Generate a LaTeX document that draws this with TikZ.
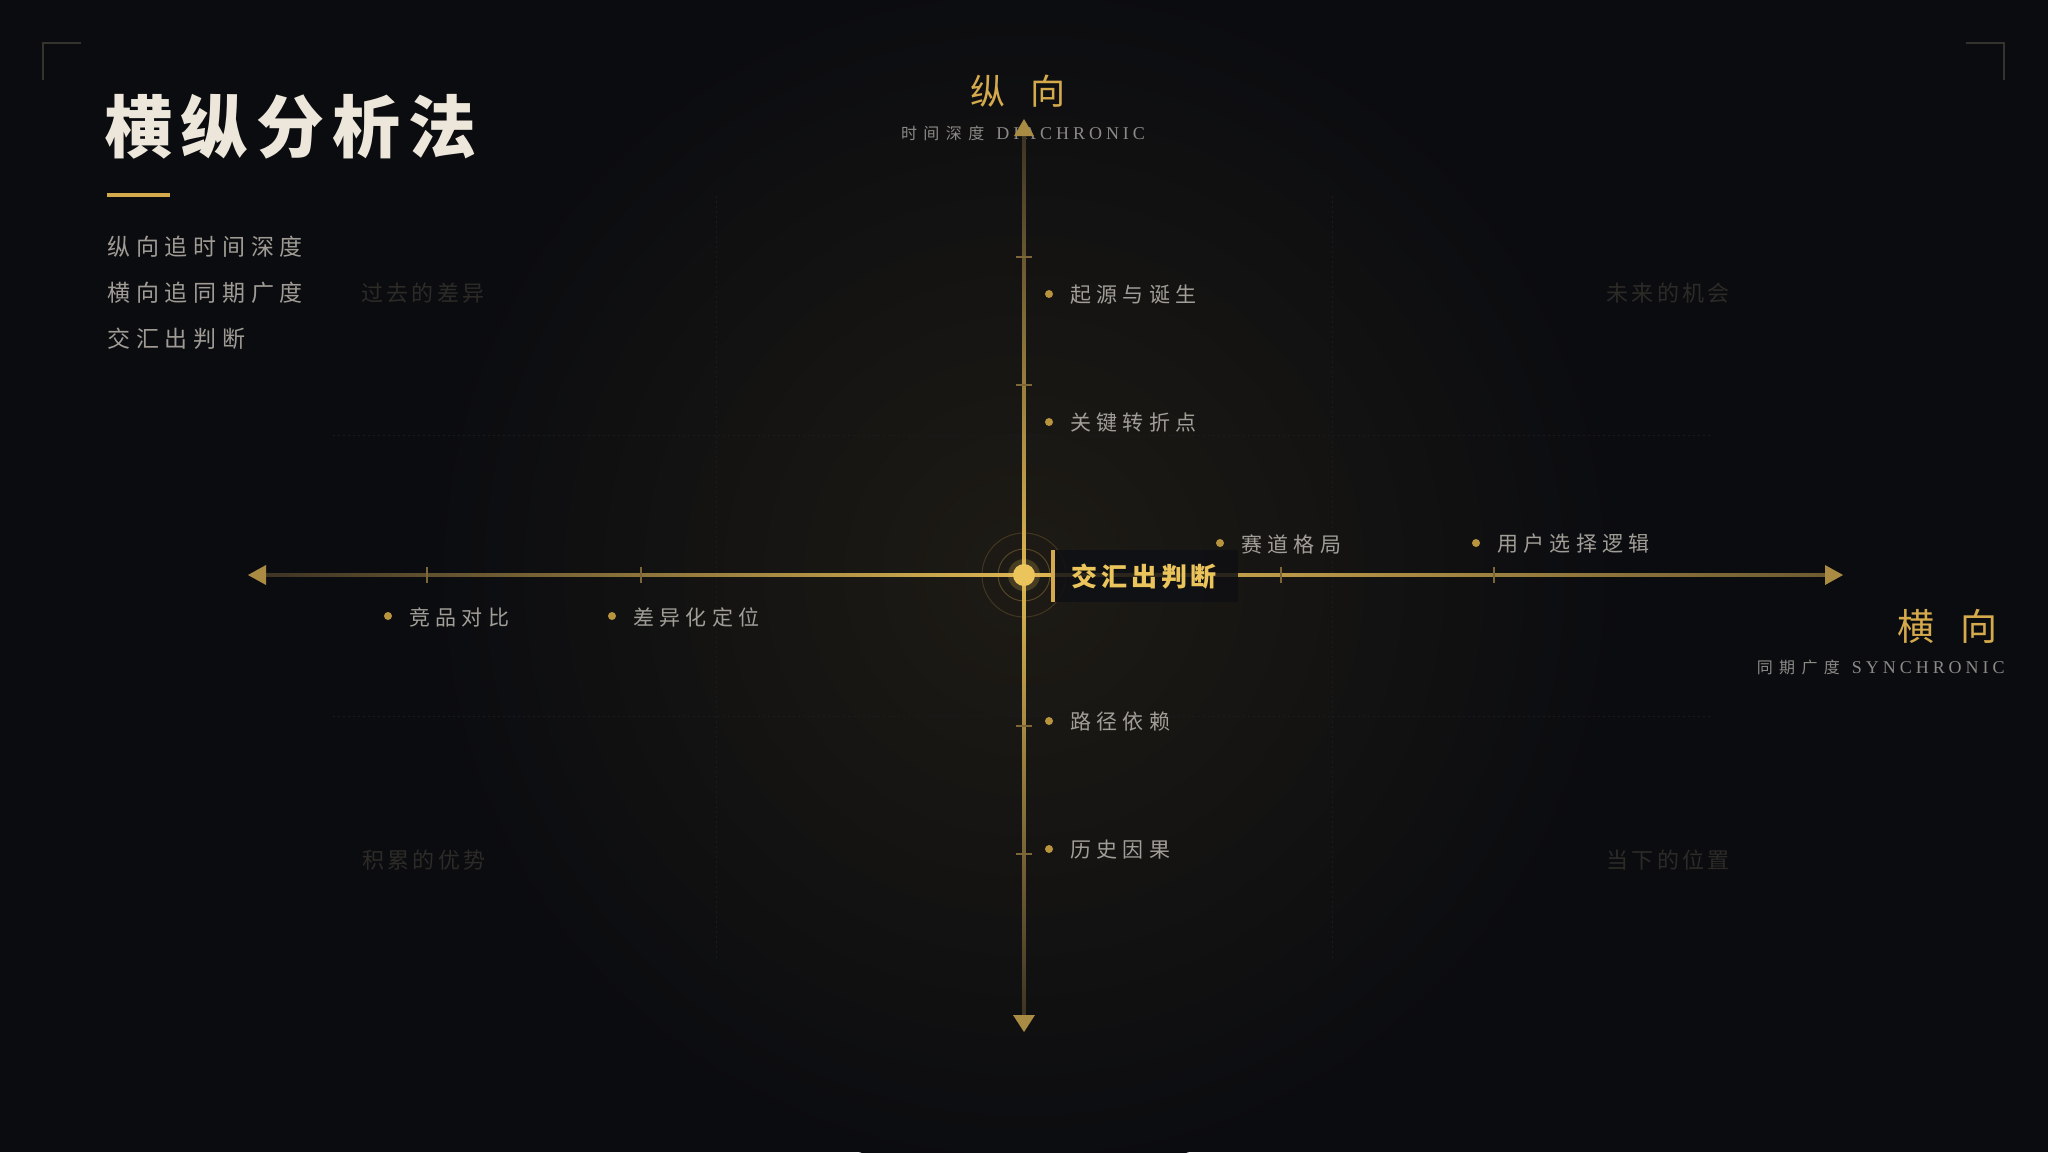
\documentclass[tikz,border=0pt]{standalone}
\usepackage{fontspec}
\setmainfont{Liberation Serif}
\newfontfamily\cjkA[LetterSpace=12]{Noto Sans CJK SC}
\newfontfamily\cjkB[LetterSpace=25]{Noto Sans CJK SC}
\newfontfamily\cjkC[LetterSpace=15]{Noto Sans CJK SC}
\newfontfamily\cjkD[LetterSpace=40]{Noto Sans CJK SC}
\newfontfamily\cjkP{Noto Sans CJK SC}
\newfontfamily\latS[LetterSpace=22]{Liberation Serif}
\definecolor{bg}{HTML}{0B0C10}
\definecolor{gold}{HTML}{D4AA4C}
\definecolor{goldhi}{HTML}{EBC55B}
\definecolor{golddim}{HTML}{3E3424}
\definecolor{goldaxis}{HTML}{DDB552}
\definecolor{arrowc}{HTML}{A98B43}
\definecolor{tickc}{HTML}{7D6738}
\definecolor{dotc}{HTML}{B8943F}
\definecolor{itemc}{HTML}{A19E97}
\definecolor{listc}{HTML}{A09C95}
\definecolor{subc}{HTML}{8C8A86}
\definecolor{quadc}{HTML}{2D2B27}
\definecolor{cornerc}{HTML}{35332E}
\definecolor{titlec}{HTML}{EDE7DB}
\definecolor{gridc}{HTML}{1A1B20}
\definecolor{glowc}{HTML}{1E1B15}
\definecolor{boxc}{HTML}{0F1014}
\begin{document}
\begin{tikzpicture}[x=0.5pt,y=-0.5pt,
  item/.style={anchor=west, inner sep=0pt, text=itemc, font=\cjkB\fontsize{10.5pt}{12pt}\selectfont},
  itemdot/.style={circle, fill=dotc, minimum size=4pt, inner sep=0pt},
  quad/.style={anchor=west, inner sep=0pt, text=quadc, font=\cjkC\fontsize{11pt}{13pt}\selectfont},
  listline/.style={anchor=west, inner sep=0pt, text=listc, font=\cjkB\fontsize{11.5pt}{13pt}\selectfont},
  tickmark/.style={draw=tickc, line width=0.7pt},
  gridline/.style={draw=gridc, line width=0.5pt, dash pattern=on 1pt off 1.5pt},
  corner/.style={draw=cornerc, line width=0.9pt},
  arrowhead/.style={fill=arrowc},
  axislabel/.style={inner sep=0pt, text=gold, font=\cjkP\fontsize{17.5pt}{20pt}\selectfont},
  sublabel/.style={inner sep=0pt, text=subc}
]
% background
\useasboundingbox (0,0) rectangle (2048,1152);
\fill[bg] (0,0) rectangle (2048,1152);
\coordinate (c) at (1024,575);
\shade[inner color=glowc, outer color=bg] (c) circle[radius=300pt];

% faint grid
\draw[gridline] (716,196) -- (716,960);
\draw[gridline] (1332,196) -- (1332,960);
\draw[gridline] (333,435) -- (1711,435);
\draw[gridline] (333,716) -- (1711,716);

% corner brackets
\draw[corner] (43,80) -- (43,43) -- (81,43);
\draw[corner] (1966,43) -- (2004,43) -- (2004,80);

% title block
\node[anchor=west, inner sep=0pt, text=titlec, font=\cjkA\bfseries\fontsize{34pt}{38pt}\selectfont] (title) at (104,127) {横纵分析法};
\fill[gold] (107,193) rectangle (170,197);
\node[listline] (l1) at (107,247) {纵向追时间深度};
\node[listline] (l2) at (107,293) {横向追同期广度};
\node[listline] (l3) at (107,339) {交汇出判断};

% quadrant labels
\node[quad] (q1) at (361,293) {过去的差异};
\node[quad] (q2) at (1606,293) {未来的机会};
\node[quad] (q3) at (362,860) {积累的优势};
\node[quad] (q4) at (1606,860) {当下的位置};

% axis labels
\node[axislabel] (vlab) at (1018,91) {纵\hspace{13pt}向};
\node[sublabel] (vsub) at (1023,133) {{\cjkD\fontsize{8pt}{10pt}\selectfont 时间深度}\hspace{6pt}{\latS\fontsize{9pt}{10pt}\selectfont DIACHRONIC}};
\node[axislabel, anchor=east, font=\cjkP\fontsize{18.5pt}{21pt}\selectfont] (hlab) at (1998,626) {横\hspace{13pt}向};
\node[sublabel, anchor=east] (hsub) at (2005,667) {{\cjkD\fontsize{8pt}{10pt}\selectfont 同期广度}\hspace{6pt}{\latS\fontsize{9pt}{10pt}\selectfont SYNCHRONIC}};

% axes
\coordinate (top) at (1024,135);
\coordinate (bot) at (1024,1015);
\coordinate (lft) at (265,575);
\coordinate (rgt) at (1826,575);
\shade[top color=golddim, bottom color=goldaxis] (1022.2,135) rectangle (1025.8,575);
\shade[top color=goldaxis, bottom color=golddim] (1022.2,575) rectangle (1025.8,1015);
\shade[left color=golddim, right color=goldaxis] (265,573.3) rectangle (1024,576.7);
\shade[left color=goldaxis, right color=golddim!70!goldaxis] (1024,573.3) rectangle (1826,576.7);

% arrowheads
\fill[arrowhead] (1024,119) -- (1014,136) -- (1034,136) -- cycle;
\fill[arrowhead] (1024,1032) -- (1013,1015) -- (1035,1015) -- cycle;
\fill[arrowhead] (248,575) -- (266,565) -- (266,585) -- cycle;
\fill[arrowhead] (1843,575) -- (1825,565) -- (1825,585) -- cycle;

% ticks
\foreach \ty in {257,385,726,854} \draw[tickmark] (1016,\ty) -- (1032,\ty);
\foreach \tx in {427,641,1281,1494} \draw[tickmark] (\tx,567) -- (\tx,583);

% centre
\draw[gold, opacity=0.2, line width=0.5pt] (c) circle[radius=21pt];
\draw[gold, opacity=0.3, line width=0.5pt] (c) circle[radius=13pt];
\fill[goldhi, opacity=0.2] (c) circle[radius=8pt];
\node[circle, fill=goldhi, minimum size=11pt, inner sep=0pt] (cdot) at (c) {};
\fill[boxc, opacity=0.85] (1052,550) rectangle (1238,602);
\fill[gold] (1051,550) rectangle (1054.5,602);
\node[anchor=west, inner sep=0pt, text=goldhi, font=\cjkC\bfseries\fontsize{13pt}{15pt}\selectfont] (cross) at (1071,577) {交汇出判断};

% vertical items
\node[itemdot] (d1) at (1049,294) {};
\node[item] (t1) at (1070,295) {起源与诞生};
\node[itemdot] (d2) at (1049,422) {};
\node[item] (t2) at (1070,423) {关键转折点};
\node[itemdot] (d3) at (1049,721) {};
\node[item] (t3) at (1070,722) {路径依赖};
\node[itemdot] (d4) at (1049,849) {};
\node[item] (t4) at (1070,850) {历史因果};

% horizontal items
\node[itemdot] (d5) at (1220,543) {};
\node[item] (t5) at (1241,544) {赛道格局};
\node[itemdot] (d6) at (1476,543) {};
\node[item] (t6) at (1497,544) {用户选择逻辑};
\node[itemdot] (d7) at (388,616) {};
\node[item] (t7) at (409,617) {竞品对比};
\node[itemdot] (d8) at (612,616) {};
\node[item] (t8) at (633,617) {差异化定位};
\end{tikzpicture}
\end{document}
